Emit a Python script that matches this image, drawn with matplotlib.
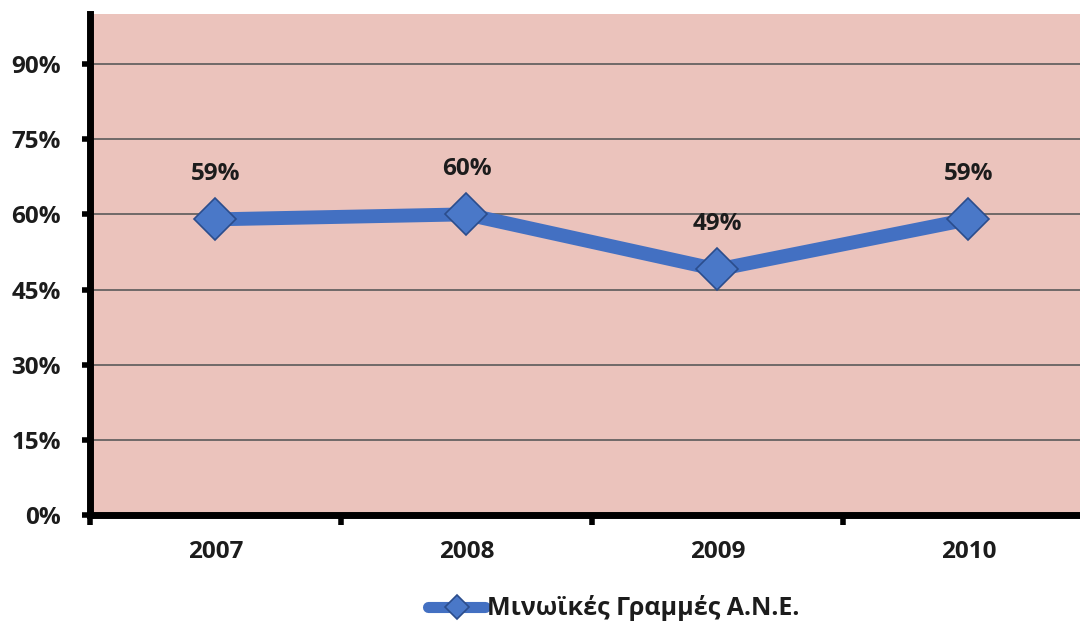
import matplotlib.pyplot as plt
from matplotlib.ticker import FixedLocator, PercentFormatter

years = ['2007', '2008', '2009', '2010']
share = [0.59, 0.60, 0.49, 0.59]
labels = ['59%', '60%', '49%', '59%']
series_name = 'Μινωϊκές Γραμμές Α.Ν.Ε.'

plt.rcParams['font.family'] = ['Open Sans', 'DejaVu Sans']
plt.rcParams['font.weight'] = 'bold'

fig = plt.figure(figsize=(10.8, 6.24), dpi=100)
ax = fig.add_axes([0.0833, 0.1747, 0.9296, 0.803])
ax.set_facecolor('#ebc3bc')

x = list(range(len(years)))
ax.plot(x, share, color='#4370c2', lw=10, solid_joinstyle='miter', zorder=3,
        marker='D', ms=21, mfc='#4a78c8', mec='#2b4d8c', mew=1.2,
        label=series_name)
for xi, yi, txt in zip(x, share, labels):
    ax.annotate(txt, (xi, yi), xytext=(0, 24), textcoords='offset points',
                ha='center', va='bottom', fontsize=17.5, fontweight='bold',
                color='#1c1c1c')

ax.set_xlim(-0.5, 3.5)
ax.set_ylim(0, 1.0)
ax.set_yticks([0, 0.15, 0.30, 0.45, 0.60, 0.75, 0.90])
ax.yaxis.set_major_formatter(PercentFormatter(1.0, decimals=0))
ax.grid(axis='y', color='#5a5a5a', lw=1.2, zorder=1)

# years sit between boundary ticks, like a category axis
ax.xaxis.set_major_locator(FixedLocator([-0.5, 0.5, 1.5, 2.5, 3.5]))
ax.xaxis.set_minor_locator(FixedLocator(x))
ax.set_xticklabels([])
ax.set_xticklabels(years, minor=True)
ax.tick_params(axis='x', which='major', length=7, width=4, color='black', direction='out')
ax.tick_params(axis='x', which='minor', length=0, pad=18, labelsize=17.5,
               labelcolor='#1c1c1c')
ax.tick_params(axis='y', length=6, width=4, color='black', direction='out',
               pad=15, labelsize=17.5, labelcolor='#1c1c1c')

for side in ['top', 'right']:
    ax.spines[side].set_visible(False)
for side in ['left', 'bottom']:
    ax.spines[side].set_linewidth(5)
    ax.spines[side].set_color('black')

leg = fig.legend(loc='center', bbox_to_anchor=(0.568, 0.025), frameon=False,
                 fontsize=18, handlelength=2.3, handletextpad=0.05,
                 markerscale=0.6, labelcolor='#1c1c1c')
for line in leg.get_lines():
    line.set_linewidth(8)
    line.set_solid_capstyle('round')

fig.savefig('out.png', dpi=100, facecolor='white')
